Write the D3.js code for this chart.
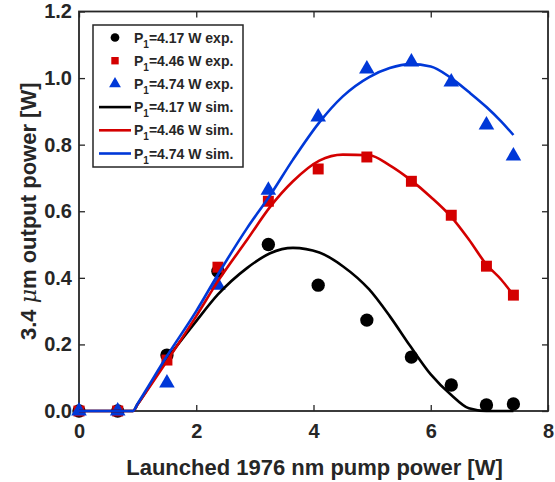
<!DOCTYPE html>
<html><head><meta charset="utf-8">
<script src="https://cdn.jsdelivr.net/npm/d3@7"></script>
<style>body{margin:0;background:#fff}svg{display:block;font-family:"Liberation Sans",Arial,sans-serif}</style>
</head><body><svg id="c" width="555" height="482"></svg>
<script>
const expX = [0, 0.66, 1.5, 2.37, 3.23, 4.08, 4.91, 5.67, 6.35, 6.95, 7.41];
const exp417 = [0, 0, 0.168, 0.42, 0.50, 0.378, 0.273, 0.162, 0.078, 0.018, 0.021];
const exp446 = [0, 0, 0.153, 0.432, 0.63, 0.727, 0.763, 0.69, 0.588, 0.435, 0.348];
const exp474 = [0, 0, 0.084, 0.378, 0.663, 0.883, 1.027, 1.048, 0.988, 0.859, 0.766];
const simX = [0, 0.92, 1.0, 1.5, 2.0, 2.37, 2.87, 3.26, 3.65, 4.1, 4.5, 4.95, 5.3, 5.65, 6.0, 6.35, 6.65, 6.95, 7.2, 7.41];
const sim417 = [0, 0, 0.02, 0.155, 0.27, 0.35, 0.43, 0.474, 0.49, 0.476, 0.435, 0.365, 0.285, 0.195, 0.11, 0.048, 0.008, 0, 0, 0];
const sim446 = [0, 0, 0.02, 0.15, 0.285, 0.39, 0.515, 0.613, 0.69, 0.752, 0.77, 0.768, 0.738, 0.695, 0.643, 0.583, 0.515, 0.44, 0.395, 0.348];
const sim474 = [0, 0, 0.022, 0.165, 0.3, 0.41, 0.55, 0.648, 0.755, 0.867, 0.945, 1.003, 1.03, 1.042, 1.035, 1.0, 0.958, 0.913, 0.87, 0.829];
const xTicks = [0, 2, 4, 6, 8];
const yTicks = [0, 0.2, 0.4, 0.6, 0.8, 1.0, 1.2];
const seriesLabels = ["4.17", "4.46", "4.74"];

const colors = ["#000000", "#d40000", "#0038d8"];
const symbols = [d3.symbolCircle, d3.symbolSquare, d3.symbolTriangle];
const axisColor = "#262626";

const svg = d3.select("#c");
const L = 79, R = 548, T = 11.5, B = 411;
const x = d3.scaleLinear().domain([0, 8]).range([L, R]);
const y = d3.scaleLinear().domain([0, 1.2]).range([B, T]);

// axes
const gx = svg.append("g").attr("transform", `translate(0,${B})`)
  .call(d3.axisBottom(x).tickValues(xTicks).tickFormat(d3.format("d")).tickSizeInner(-6).tickSizeOuter(0).tickPadding(13));
const gy = svg.append("g").attr("transform", `translate(${L},0)`)
  .call(d3.axisLeft(y).tickValues(yTicks).tickFormat(d3.format(".1f")).tickSizeInner(-6).tickSizeOuter(0).tickPadding(7));
const gt = svg.append("g").attr("transform", `translate(0,${T})`)
  .call(d3.axisTop(x).tickValues(xTicks).tickFormat("").tickSizeInner(-6).tickSizeOuter(0));
const gr = svg.append("g").attr("transform", `translate(${R},0)`)
  .call(d3.axisRight(y).tickValues(yTicks).tickFormat("").tickSizeInner(-6).tickSizeOuter(0));
[gx, gy, gt, gr].forEach(g => {
  g.select(".domain").remove();
  g.selectAll("line").attr("stroke", axisColor).attr("stroke-width", 1.3);
  g.selectAll("text").attr("fill", axisColor).attr("font-size", 20).attr("font-weight", "bold")
    .attr("font-family", "'Liberation Sans', Arial, sans-serif");
});
svg.append("rect").attr("x", L).attr("y", T).attr("width", R - L).attr("height", B - T)
  .attr("fill", "none").attr("stroke", axisColor).attr("stroke-width", 1.8);

// experimental markers
const expSets = [exp417, exp446, exp474];
const sizes = [140, 120, 105];
expSets.forEach((ys, i) => {
  svg.append("g").selectAll("path").data(expX.map((v, j) => [v, ys[j]])).join("path")
    .attr("d", d3.symbol(symbols[i], sizes[i]))
    .attr("transform", d => `translate(${x(d[0])},${y(d[1])})`)
    .attr("fill", colors[i]);
});

// simulation lines
const simSets = [sim417, sim446, sim474];
const line = d3.line().x(d => x(d[0])).y(d => y(d[1])).curve(d3.curveMonotoneX);
simSets.forEach((ys, i) => {
  svg.append("path").datum(simX.map((v, j) => [v, ys[j]]))
    .attr("d", line).attr("fill", "none").attr("stroke", colors[i]).attr("stroke-width", 2.6);
});

// legend
const lg = svg.append("g");
lg.append("rect").attr("x", 93).attr("y", 25).attr("width", 150).attr("height", 142)
  .attr("fill", "#fff").attr("stroke", axisColor).attr("stroke-width", 1.5);
const rows = [];
seriesLabels.forEach((s, i) => rows.push({ type: "exp", i, text: s, kind: "exp." }));
seriesLabels.forEach((s, i) => rows.push({ type: "sim", i, text: s, kind: "sim." }));
const legSizes = [60, 55, 60];
rows.forEach((r, k) => {
  const cy = 37.5 + k * 23.2;
  if (r.type === "exp") {
    lg.append("path").attr("d", d3.symbol(symbols[r.i], legSizes[r.i]))
      .attr("transform", `translate(115,${cy})`).attr("fill", colors[r.i]);
  } else {
    lg.append("line").attr("x1", 99).attr("x2", 131).attr("y1", cy).attr("y2", cy)
      .attr("stroke", colors[r.i]).attr("stroke-width", 2.6);
  }
  const t = lg.append("text").attr("x", 134).attr("y", cy + 5).attr("font-size", 14)
    .attr("font-weight", "bold").attr("fill", axisColor);
  t.append("tspan").text("P");
  t.append("tspan").attr("font-size", 10).attr("dy", 5).text("1");
  t.append("tspan").attr("dy", -5).text(`=${r.text} W ${r.kind}`);
});

// axis titles
svg.append("text").attr("x", (L + R) / 2 + 1).attr("y", 475).attr("text-anchor", "middle")
  .attr("font-size", 22).attr("font-weight", "bold").attr("fill", axisColor)
  .text("Launched 1976 nm pump power [W]");
const yt = svg.append("text").attr("transform", `translate(36,${(T + B) / 2}) rotate(-90)`)
  .attr("text-anchor", "middle").attr("font-size", 22).attr("font-weight", "bold").attr("fill", axisColor);
yt.append("tspan").text("3.4 ");
yt.append("tspan").attr("font-style", "italic").attr("font-weight", "normal").attr("font-family", "'DejaVu Serif', serif").text("μ");
yt.append("tspan").text("m output power [W]");
</script></body></html>
